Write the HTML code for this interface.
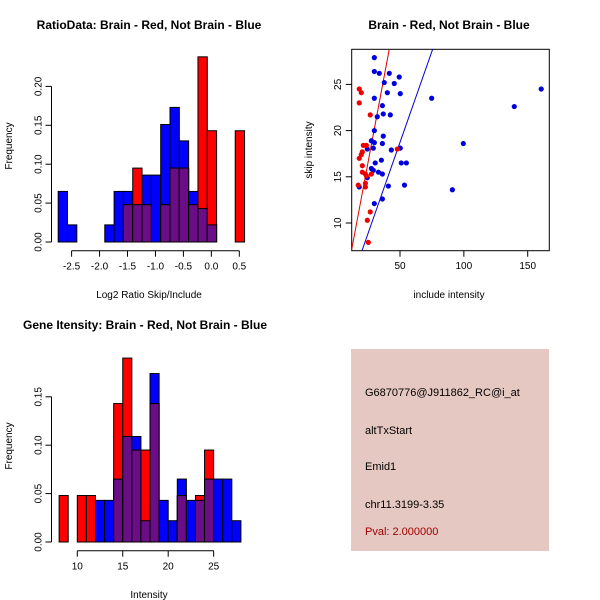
<!DOCTYPE html>
<html><head><meta charset="utf-8"><style>
body{margin:0;background:#fff}
svg{display:block;font-family:"Liberation Sans",sans-serif}
</style></head><body>
<svg id="s" width="600" height="600" xmlns="http://www.w3.org/2000/svg">
<rect width="600" height="600" fill="#fff"/>
<text x="149" y="29" font-size="12" font-weight="bold" text-anchor="middle">RatioData: Brain - Red, Not Brain - Blue</text>
<text x="449" y="29" font-size="12" font-weight="bold" text-anchor="middle">Brain - Red, Not Brain - Blue</text>
<text x="145" y="329" font-size="12" font-weight="bold" text-anchor="middle">Gene Itensity: Brain - Red, Not Brain - Blue</text>
<text x="149" y="298" font-size="10" text-anchor="middle">Log2 Ratio Skip/Include</text>
<text x="12" y="146" font-size="10" text-anchor="middle" transform="rotate(-90 12 146)">Frequency</text>
<text x="449" y="298" font-size="10" text-anchor="middle">include intensity</text>
<text x="312" y="150" font-size="10" text-anchor="middle" transform="rotate(-90 312 150)">skip intensity</text>
<text x="149" y="598" font-size="10" text-anchor="middle">Intensity</text>
<text x="12" y="446" font-size="10" text-anchor="middle" transform="rotate(-90 12 446)">Frequency</text>
<g>
<rect x="351" y="349" width="198" height="202" fill="#E6C8C2"/>
<text x="365" y="396" font-size="11">G6870776@J911862_RC@i_at</text>
<text x="365" y="434" font-size="11">altTxStart</text>
<text x="365" y="470" font-size="11">Emid1</text>
<text x="365" y="508" font-size="11">chr11.3199-3.35</text>
<text x="365" y="535" font-size="11" fill="#A00000">Pval: 2.000000</text>
</g>
</svg>
<script>
// Ratio histogram data (bin i: start -2.74 + i*0.1667)
const ratioBlue=[0.065,0.022,0,0,0,0.022,0.065,0.065,0.048,0.086,0.086,0.151,0.173,0.130,0.065,0.043,0.022,0,0,0];
const ratioRed=[0,0,0,0,0,0,0,0.048,0.095,0.048,0,0.048,0.095,0.095,0.048,0.238,0.143,0,0,0.143];
const ratioXTicks=[-2.5,-2.0,-1.5,-1.0,-0.5,0.0,0.5];
const ratioYTicks=[0,0.05,0.10,0.15,0.20];
// Intensity histogram (bins 8..28 width 1)
const intBlue=[0,0,0,0,0.043,0.043,0.065,0.109,0.109,0.022,0.174,0.043,0.022,0.065,0.043,0.043,0.065,0.065,0.065,0.022];
const intRed=[0.048,0,0.048,0.048,0,0,0.143,0.19,0.095,0.095,0.143,0,0,0.048,0,0.048,0.095,0,0,0];
const intXTicks=[10,15,20,25];
const intYTicks=[0,0.05,0.10,0.15];
// Scatter
const blueX=[29.9,29.9,33.8,41.6,37.7,45.5,49.4,40.1,50.2,74.8,139.5,160.6,29.9,36.2,36.9,42.4,32.2,29.9,36.9,27.6,29.9,36.2,24.4,29.1,43.2,50.2,99.6,30.6,35.4,51.0,55.0,27.6,29.1,33.1,36.2,24.4,18.1,40.9,53.5,91.0,29.9,36.2];
const blueY=[27.9,26.4,26.2,26.2,25.2,25.1,25.8,24.1,24.0,23.5,22.6,24.5,23.5,22.7,21.8,21.7,21.5,20.0,19.4,18.9,18.7,18.6,18.0,18.1,17.9,18.1,18.6,16.5,16.8,16.5,16.5,15.9,15.7,15.5,15.3,14.9,13.9,14.0,14.1,13.6,12.1,12.6];
const redX=[18.1,19.7,18.1,26.7,21.3,23.7,20.5,19.7,18.1,20.5,20.5,22.9,23.7,27.6,22.9,22.9,17.3,26.7,24.4,25.2,47.9];
const redY=[24.5,24.1,23.0,21.7,18.4,18.4,17.7,17.4,17.0,16.2,15.5,15.3,15.1,15.3,14.3,13.9,14.1,11.2,10.3,7.9,18.0];
const redLine=[-1.84,0.737];
const blueLine=[-0.97,0.394];
const scXTicks=[50,100,150];
const scYTicks=[10,15,20,25];

const S=document.getElementById('s');const NS='http://www.w3.org/2000/svg';
function mk(t,a,p){const e=document.createElementNS(NS,t);for(const k in a)e.setAttribute(k,a[k]);(p||S).appendChild(e);return e;}
const PUR='#6A0D86';
function hist(g,blue,red,x0,bw,X,Y,y0){
  for(let i=0;i<blue.length;i++){
    const a=X(x0+i*bw),b=X(x0+(i+1)*bw);
    const mb=blue[i],mr=red[i],mn=Math.min(mb,mr);
    if(mb>0){const r=mk('rect',{x:a,y:Y(mb),width:b-a,height:y0-Y(mb),fill:'#0000FF',stroke:'#000','stroke-width':1},g);
      
      }
    if(mr>0){const r=mk('rect',{x:a,y:Y(mr),width:b-a,height:y0-Y(mr),fill:'#FF0000',stroke:'#000','stroke-width':1},g);
      
      }
    if(mn>0){const r=mk('rect',{x:a,y:Y(mn),width:b-a,height:y0-Y(mn),fill:PUR,stroke:'#000','stroke-width':1},g);
      
      }
  }
}
function xaxis(g,ticks,X,y,fmt){
  mk('line',{x1:X(ticks[0]),x2:X(ticks[ticks.length-1]),y1:y,y2:y,stroke:'#000'},g);
  ticks.forEach(t=>{mk('line',{x1:X(t),x2:X(t),y1:y,y2:y+6,stroke:'#000'},g);
    const tx=mk('text',{x:X(t),y:y+19,'font-size':10,'text-anchor':'middle'},g);tx.textContent=fmt(t);
    
    });
}
function yaxis(g,ticks,Y,x,fmt){
  mk('line',{x1:x,x2:x,y1:Y(ticks[0]),y2:Y(ticks[ticks.length-1]),stroke:'#000'},g);
  ticks.forEach(t=>{mk('line',{x1:x,x2:x-6,y1:Y(t),y2:Y(t),stroke:'#000'},g);
    const tx=mk('text',{x:x-10,y:Y(t),'font-size':10,'text-anchor':'middle',transform:`rotate(-90 ${x-10} ${Y(t)})`},g);tx.textContent=fmt(t);
    
    });
}
// Ratio hist
{const g=mk('g',{});


const X=v=>239.3+(v-0.5)*55.9, Y=v=>242-v*778;
hist(g,ratioBlue,ratioRed,-2.74,0.1667,X,Y,242);
xaxis(g,ratioXTicks,X,250.7,t=>t.toFixed(1));
yaxis(g,ratioYTicks,Y,51.5,t=>t.toFixed(2));}
// Intensity hist
{const g=mk('g',{});


const X=v=>77.3+(v-10)*9.09, Y=v=>542-v*968;
hist(g,intBlue,intRed,8,1,X,Y,542);
xaxis(g,intXTicks,X,550.7,t=>String(t));
yaxis(g,intYTicks,Y,51.5,t=>t.toFixed(2));}
// Scatter
{const g=mk('g',{});


const X=v=>400+(v-50)*1.277, Y=v=>223-(v-10)*9.24;
const cp=mk('clipPath',{id:'cp'},g);mk('rect',{x:351.7,y:49.3,width:197.6,height:201.4},cp);
mk('rect',{x:351.7,y:49.3,width:197.6,height:201.4,fill:'none',stroke:'#000'},g);
const lg=mk('g',{'clip-path':'url(#cp)'},g);
[[redLine,'#DD0000','red-fit-line'],[blueLine,'#0000CC','blue-fit-line']].forEach(([l,c,n])=>{
  const x1=0,x2=200;const ln=mk('line',{x1:X(x1),y1:Y(l[0]+l[1]*x1),x2:X(x2),y2:Y(l[0]+l[1]*x2),stroke:c},lg);
  
  });
blueX.forEach((v,i)=>{const c=mk('circle',{cx:X(v),cy:Y(blueY[i]),r:2.6,fill:'#0000DD'},lg);
  
  });
redX.forEach((v,i)=>{const c=mk('circle',{cx:X(v),cy:Y(redY[i]),r:2.6,fill:'#EE0000'},lg);
  
  });
scXTicks.forEach(t=>{mk('line',{x1:X(t),x2:X(t),y1:250.7,y2:256.7,stroke:'#000'},g);
  const tx=mk('text',{x:X(t),y:269,'font-size':10,'text-anchor':'middle'},g);tx.textContent=t;
  
  });
scYTicks.forEach(t=>{mk('line',{x1:351.7,x2:345.7,y1:Y(t),y2:Y(t),stroke:'#000'},g);
  const tx=mk('text',{x:341,y:Y(t),'font-size':10,'text-anchor':'middle',transform:`rotate(-90 341 ${Y(t)})`},g);tx.textContent=t;
  
  });}
</script>
</body></html>
